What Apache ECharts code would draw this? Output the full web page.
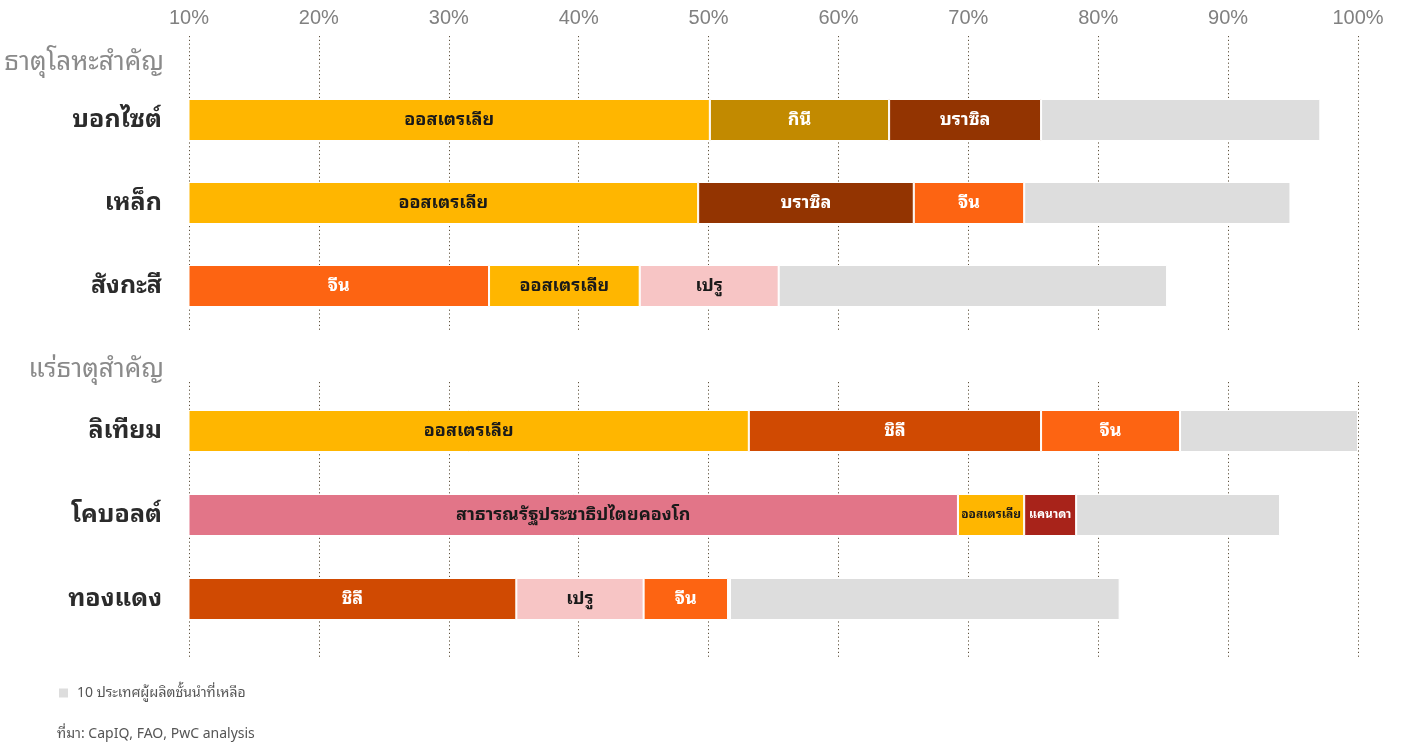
<!DOCTYPE html>
<html>
<head>
<meta charset="utf-8">
<title>ส่วนแบ่งการผลิตธาตุโลหะและแร่ธาตุสำคัญ</title>
<script src="https://cdn.jsdelivr.net/npm/echarts@6/dist/echarts.min.js"></script>
<style>
  html, body { margin: 0; padding: 0; background: #ffffff; }
  #chart { width: 1401px; height: 745px; }
</style>
</head>
<body>
<div id="chart"></div>
<script>
// Rows of each group
const metalRows = ['บอกไซต์', 'เหล็ก', 'สังกะสี'];
const mineralRows = ['ลิเทียม', 'โคบอลต์', 'ทองแดง'];

// Leading producers per row, in stacking order
const metalCountries = [
  ['ออสเตรเลีย', 'กินี', 'บราซิล'],
  ['ออสเตรเลีย', 'บราซิล', 'จีน'],
  ['จีน', 'ออสเตรเลีย', 'เปรู']
];
const mineralCountries = [
  ['ออสเตรเลีย', 'ชิลี', 'จีน'],
  ['สาธารณรัฐประชาธิปไตยคองโก', 'ออสเตรเลีย', 'แคนาดา'],
  ['ชิลี', 'เปรู', 'จีน', 'อื่นๆ']
];

// Segment sizes on the percentage scale (first segment measured from 0)
const metalShares = [
  [50.1, 13.8, 11.7],
  [49.2, 16.6, 8.5],
  [33.1, 11.6, 10.7]
];
const mineralShares = [
  [53.1, 22.5, 10.7],
  [69.2, 5.1, 4.0],
  [35.2, 9.8, 6.5, 0.15]
];

// Remaining top-10 producers
const restName = '10 ประเทศผู้ผลิตชั้นนำที่เหลือ';
const metalRest = [21.5, 20.5, 29.9];
const mineralRest = [13.7, 15.7, 30.0];

// Axis ticks
const axisMin = 10;
const axisMax = 100;
const axisStep = 10;

const countryColors = {
  'ออสเตรเลีย': '#FFB600',
  'กินี': '#C28A00',
  'บราซิล': '#933401',
  'จีน': '#FD6412',
  'เปรู': '#F7C5C5',
  'ชิลี': '#D04A02',
  'สาธารณรัฐประชาธิปไตยคองโก': '#E27588',
  'แคนาดา': '#A8231A',
  'อื่นๆ': '#F9A47C'
};
const darkText = ['ออสเตรเลีย', 'เปรู', 'สาธารณรัฐประชาธิปไตยคองโก'];
const thaiFont = '"Noto Sans Thai Looped", "Noto Sans Thai", "Noto Sans Thai UI", "Noto Sans", "DejaVu Sans", sans-serif';

function buildSeries(countries, shares, rest, axisIndex) {
  const ranks = Math.max.apply(null, countries.map(c => c.length));
  const out = [];
  for (let r = 0; r < ranks; r++) {
    out.push({
      type: 'bar',
      stack: 'group' + axisIndex,
      xAxisIndex: axisIndex,
      yAxisIndex: axisIndex,
      barWidth: 42,
      itemStyle: { borderColor: '#ffffff', borderWidth: 1 },
      label: {
        show: true,
        position: 'inside',
        fontFamily: thaiFont,
        fontWeight: 'bold',
        padding: [10, 0, 0, 0],
        formatter: p => (p.data && p.data.country) || ''
      },
      data: shares.map((row, i) => {
        if (row[r] == null) return '-';
        const c = countries[i][r];
        const width = r === 0 ? row[r] - axisMin : row[r];
        return {
          value: row[r],
          country: width >= 2 ? c : '',
          itemStyle: { color: countryColors[c] },
          label: {
            color: darkText.indexOf(c) >= 0 ? '#1a1a1a' : '#ffffff',
            fontSize: width < 5.5 ? 12 : 18
          }
        };
      })
    });
  }
  out.push({
    name: restName,
    type: 'bar',
    stack: 'group' + axisIndex,
    xAxisIndex: axisIndex,
    yAxisIndex: axisIndex,
    barWidth: 42,
    itemStyle: { color: '#DDDDDD', borderColor: '#ffffff', borderWidth: 1 },
    data: rest
  });
  return out;
}

function valueAxis(gridIndex, showLabels, showLines) {
  return {
    type: 'value',
    gridIndex: gridIndex,
    min: axisMin,
    max: axisMax,
    interval: axisStep,
    position: 'top',
    axisLine: { show: false },
    axisTick: { show: false },
    axisLabel: {
      show: showLabels,
      formatter: '{value}%',
      fontFamily: '"Liberation Sans", Arial, Helvetica, sans-serif',
      fontSize: 20,
      color: '#808080',
      margin: 8
    },
    splitLine: {
      show: showLines,
      lineStyle: { color: '#5e513c', width: 1, type: [1.2, 2.6] }
    }
  };
}

function categoryAxis(gridIndex, rows, show) {
  return {
    type: 'category',
    gridIndex: gridIndex,
    data: rows,
    inverse: true,
    show: show,
    axisLine: { show: false },
    axisTick: { show: false },
    axisLabel: {
      fontFamily: thaiFont,
      fontWeight: 'bold',
      fontSize: 25,
      color: '#2b2b2b',
      margin: 27,
      padding: [10, 0, 0, 0]
    }
  };
}

const chart = echarts.init(document.getElementById('chart'), null, { renderer: 'canvas' });

chart.setOption({
  animation: false,
  backgroundColor: '#ffffff',
  grid: [
    { left: 189, right: 43, top: 36, height: 296 },
    { left: 189, right: 43, top: 382, height: 276 },
    { left: 189, right: 43, top: 78.5, height: 249 },
    { left: 189, right: 43, top: 389, height: 252 }
  ],
  xAxis: [
    valueAxis(0, true, true),
    valueAxis(1, false, true),
    valueAxis(2, false, false),
    valueAxis(3, false, false)
  ],
  yAxis: [
    categoryAxis(0, [], false),
    categoryAxis(1, [], false),
    categoryAxis(2, metalRows, true),
    categoryAxis(3, mineralRows, true)
  ],
  legend: {
    data: [restName],
    left: 52,
    top: 681,
    icon: 'rect',
    itemWidth: 11,
    itemHeight: 11,
    selectedMode: false,
    textStyle: { fontFamily: thaiFont, fontSize: 14, color: '#555555', padding: [0, 0, 0, 3] }
  },
  graphic: [
    {
      type: 'text', right: 1401 - 164, top: 50,
      style: { text: 'ธาตุโลหะสำคัญ', fontFamily: thaiFont, fontSize: 26, fill: '#8a8a8a', textAlign: 'right' }
    },
    {
      type: 'text', right: 1401 - 164, top: 357,
      style: { text: 'แร่ธาตุสำคัญ', fontFamily: thaiFont, fontSize: 26, fill: '#8a8a8a', textAlign: 'right' }
    },
    {
      type: 'text', left: 57, top: 727,
      style: { text: 'ที่มา: CapIQ, FAO, PwC analysis', fontFamily: thaiFont, fontSize: 14, fill: '#555555' }
    }
  ],
  series: [].concat(
    buildSeries(metalCountries, metalShares, metalRest, 2),
    buildSeries(mineralCountries, mineralShares, mineralRest, 3)
  )
});
</script>
</body>
</html>
